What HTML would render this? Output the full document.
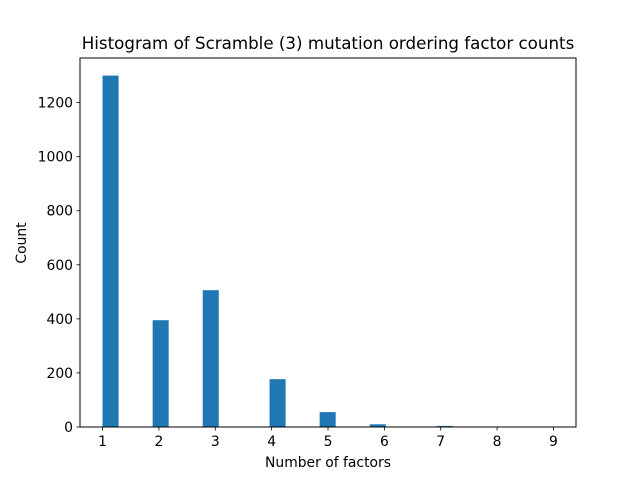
<!DOCTYPE html>
<html><head><meta charset="utf-8"><style>body{margin:0;background:#fff}svg{display:block}text{font-family:"DejaVu Sans","Liberation Sans",sans-serif;fill:#000}</style></head>
<body>
<svg id="chart" width="640" height="480" viewBox="0 0 640 480">
<rect x="0" y="0" width="640" height="480" fill="#fff"/>
<text x="328" y="49" font-size="16.7" text-anchor="middle">Histogram of Scramble (3) mutation ordering factor counts</text>
<g id="bars"></g>
<g id="xticks"></g>
<g id="yticks"></g>
<rect x="80" y="58" width="496" height="369" fill="none" stroke="#000" stroke-width="1"/>
<text x="328" y="467" font-size="13.9" text-anchor="middle">Number of factors</text>
<text x="0" y="0" font-size="13.9" text-anchor="middle" transform="translate(26,243) rotate(-90)">Count</text>
</svg>
<script>
const binIndex = [0, 3, 6, 10, 13, 16, 20, 23, 26];
const counts = [1300, 395, 506, 177, 55, 10, 4, 1, 1];
const xTicks = [1, 2, 3, 4, 5, 6, 7, 8, 9];
const yTicks = [0, 200, 400, 600, 800, 1000, 1200];
const binStart = 1, binEnd = 9, nBins = 27;
const NS = 'http://www.w3.org/2000/svg';
const ax = {l: 80, r: 576, t: 58, b: 427};
const xMin = 0.6, xMax = 9.4, yMax = 1365;
function xs(v){return ax.l + (v - xMin) / (xMax - xMin) * (ax.r - ax.l);}
function ys(v){return ax.b - v / yMax * (ax.b - ax.t);}
function mk(tag, attrs){const e=document.createElementNS(NS,tag);for(const k in attrs)e.setAttribute(k,attrs[k]);return e;}
const bw = (binEnd - binStart) / nBins;
const bars = document.getElementById('bars');
binIndex.forEach((k, i) => {
  const x0 = binStart + k * bw;
  const r = mk('rect', {x: xs(x0), y: ys(counts[i]), width: (xs(x0 + bw) - xs(x0)) * 0.96, height: ys(0) - ys(counts[i]), fill: '#1f77b4'});
  
  
  bars.appendChild(r);
});
const xg = document.getElementById('xticks');
xTicks.forEach(v => {
  const l = mk('line', {x1: xs(v), x2: xs(v), y1: ax.b, y2: ax.b + 3.5, stroke: '#000', 'stroke-width': 0.8});
  
  
  xg.appendChild(l);
  const t = mk('text', {x: xs(v), y: ax.b + 19, 'font-size': 13.9, 'text-anchor': 'middle'});
  t.textContent = v;
  
  
  xg.appendChild(t);
});
const yg = document.getElementById('yticks');
yTicks.forEach(v => {
  const l = mk('line', {x1: ax.l - 3.5, x2: ax.l, y1: ys(v), y2: ys(v), stroke: '#000', 'stroke-width': 0.8});
  
  
  yg.appendChild(l);
  const t = mk('text', {x: ax.l - 7, y: ys(v) + 5, 'font-size': 13.9, 'text-anchor': 'end'});
  t.textContent = v;
  
  
  yg.appendChild(t);
});
</script>
</body></html>
